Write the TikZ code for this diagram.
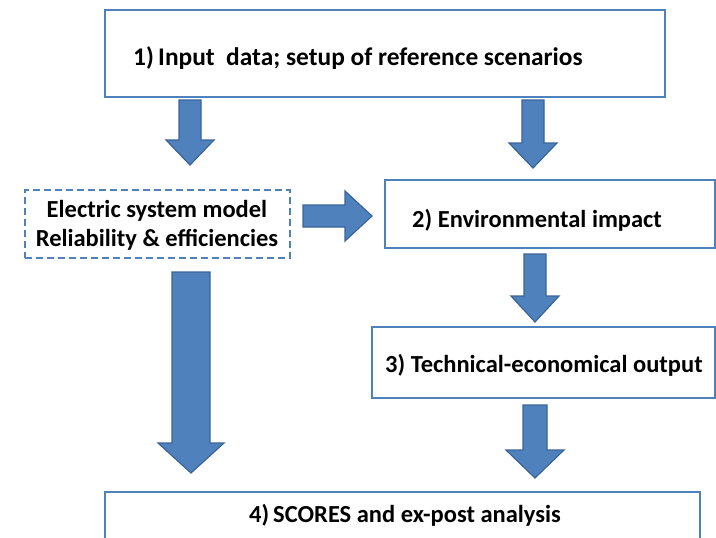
\documentclass[tikz,border=0pt]{standalone}
\usepackage{fontspec}
\setmainfont{Carlito}
\usetikzlibrary{calc}
\definecolor{bbord}{HTML}{4F81BD}
\definecolor{afill}{HTML}{4F81BD}
\definecolor{aedge}{HTML}{3A6497}
\tikzset{
  box/.style={draw=bbord, line width=2.8pt, fill=white, inner sep=0pt, rectangle},
  dbox/.style={box, dash pattern=on 7pt off 4pt},
  txt/.style={font=\bfseries\fontsize{24.5}{29}\selectfont, inner sep=0pt, align=center},
  bigtxt/.style={font=\bfseries\fontsize{25.4}{30}\selectfont, inner sep=0pt},
  blk/.style={fill=afill, draw=aedge, line width=1.2pt, line join=miter}
}
\newcommand\vblk[5]{\path[blk] let \p1=(#1), \p2=(#2) in
  (\x1-#3pt,\y1) -- (\x1+#3pt,\y1) -- (\x1+#3pt,\y2+#5pt) -- (\x1+#4pt,\y2+#5pt)
  -- (\x1,\y2) -- (\x1-#4pt,\y2+#5pt) -- (\x1-#3pt,\y2+#5pt) -- cycle;}
\newcommand\hblk[5]{\path[blk] let \p1=(#1), \p2=(#2) in
  (\x1,\y1+#3pt) -- (\x1,\y1-#3pt) -- (\x2-#5pt,\y1-#3pt) -- (\x2-#5pt,\y1-#4pt)
  -- (\x2,\y1) -- (\x2-#5pt,\y1+#4pt) -- (\x2-#5pt,\y1+#3pt) -- cycle;}
\begin{document}
\begin{tikzpicture}[x=1pt,y=-1pt]
\useasboundingbox (0,0) rectangle (716,538);
% boxes
\node[box, minimum width=560pt, minimum height=87pt] (b1) at (385,53.5) {};
\node[bigtxt, anchor=west] (t1) at (133,58) {1)\,Input\ \ data; setup of reference scenarios};
\node[box, minimum width=330pt, minimum height=68pt] (b2) at (550,214) {};
\node[txt, anchor=west] (t2) at (412,220) {2) Environmental impact};
\node[dbox, minimum width=265pt, minimum height=68pt] (em) at (157.5,224) {};
\node[txt] (tem) at (157,225) {Electric system model\\Reliability \& efficiencies};
\node[box, minimum width=343pt, minimum height=71pt] (b3) at (543.5,362.5) {};
\node[txt, anchor=west] (t3) at (385,365) {3) Technical-economical output};
\node[box, minimum width=595pt, minimum height=52pt] (b4) at (402.5,518) {};
\node[txt] (t4) at (405,515) {4)\,SCORES and ex-post analysis};
% arrow end points
\coordinate (a1s) at (190,100);  \coordinate (a1e) at (190,165);
\coordinate (a2s) at (533,100);  \coordinate (a2e) at (533,168);
\coordinate (a3s) at (303,216);  \coordinate (a3e) at (372,216);
\coordinate (a4s) at (535,254);  \coordinate (a4e) at (535,322);
\coordinate (a5s) at (191,272);  \coordinate (a5e) at (191,473);
\coordinate (a6s) at (535,405);  \coordinate (a6e) at (535,478);
\vblk{a1s}{a1e}{11}{24}{25}
\vblk{a2s}{a2e}{11}{24}{25}
\hblk{a3s}{a3e}{11}{25}{27}
\vblk{a4s}{a4e}{11}{24}{26}
\vblk{a5s}{a5e}{19}{33}{30}
\vblk{a6s}{a6e}{12}{29}{28}
\end{tikzpicture}
\end{document}
